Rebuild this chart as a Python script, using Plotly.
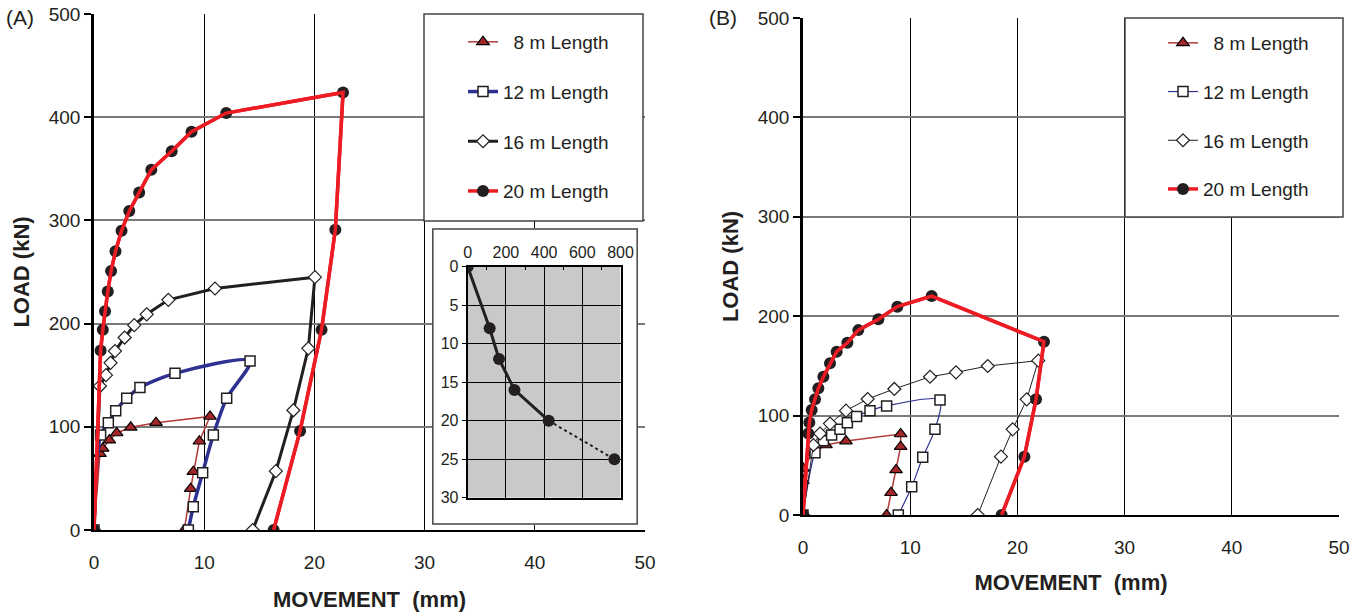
import plotly.graph_objects as go

W, H = 1364, 613

# ---------------- data: panel (A) ----------------
A8_X = [0, 0.54, 0.79, 1.39, 2.06, 3.33, 5.63, 10.53, 9.56, 9.01, 8.77, 8.2]
A8_Y = [0, 74, 79, 87, 94, 99.5, 104, 110, 86, 56.5, 40, 0]
A12_X = [0, 0.6, 1.3, 1.97, 2.97, 4.17, 7.35, 14.16, 12.04, 10.83, 9.86, 9.01, 8.56]
A12_Y = [0, 92, 104, 115.6, 127.6, 138, 151.8, 163.8, 127.6, 92, 55.5, 22.6, 0]
A16_X = [0, 0.54, 1.09, 1.5, 1.9, 2.78, 3.65, 4.78, 6.75, 10.98, 20.05, 19.45, 18.09, 16.5, 14.4]
A16_Y = [0, 139.5, 150, 162, 173.4, 186.5, 198.5, 209, 223, 234, 245, 176, 116, 57, 0]
A20_X = [0, 0.6, 0.8, 1.0, 1.25, 1.55, 1.95, 2.5, 3.2, 4.1, 5.2, 7.05, 8.85, 12.0, 22.6, 21.9, 20.65, 18.7, 16.3]
A20_Y = [0, 174, 194, 212, 231, 251, 270, 290, 309, 327, 349, 367, 386, 404, 424, 291, 194, 96, 0]

# ---------------- data: panel (B) ----------------
B8_X = [0, 0, 0, 0.97, 2.15, 4.01, 9.11, 9.11, 8.68, 8.21, 7.8]
B8_Y = [0, 34.5, 47, 62.7, 70.4, 74.4, 81.5, 68.7, 45.3, 22.4, 0]
B12_X = [0, 1.12, 1.9, 2.67, 3.45, 4.14, 5.0, 6.25, 7.8, 12.78, 12.31, 11.17, 10.14, 8.89]
B12_Y = [0, 62.7, 74.8, 80.5, 86.2, 92.9, 99, 105, 109.7, 115.7, 86.2, 58, 28.5, 0]
B16_X = [0, 0.97, 1.59, 2.52, 4.01, 6.03, 8.52, 11.85, 14.27, 17.23, 21.95, 20.87, 19.56, 18.47, 16.3]
B16_Y = [0, 70.4, 82, 92, 105, 116.7, 126.8, 139.1, 143.5, 149.9, 155.3, 116.4, 86.2, 58.7, 0]
B20_X = [0, 0.5, 0.59, 0.81, 1.12, 1.43, 1.9, 2.52, 3.14, 4.14, 5.16, 7.03, 8.8, 12.0, 22.48, 21.74, 20.65, 18.53]
B20_Y = [0, 82, 93, 105.6, 116.4, 127.4, 139, 152.6, 164.3, 173.3, 186, 197, 209.6, 220.3, 174.4, 116.4, 58.7, 0]

# ---------------- data: inset (peak load vs pile length) ----------------
INSET_LOAD = [0, 115, 164, 245, 424, 768]
INSET_LEN = [0, 8, 12, 16, 20, 25]

NAMES = ["\u20078 m Length", "12 m Length", "16 m Length", "20 m Length"]
X_TICKS = [0, 10, 20, 30, 40, 50]
Y_TICKS = [0, 100, 200, 300, 400, 500]

FONT = "Liberation Sans, Arial, sans-serif"
INK = "#231f20"
DRED = "#a3262a"
BLUE = "#2e3192"
RED = "#ed1c24"

fig = go.Figure()


def add_panel(xs, ys, xa, ya, widths, legend, smooth12):
    (x8, x12, x16, x20), (y8, y12, y16, y20) = xs, ys
    fig.add_trace(go.Scatter(x=x8, y=y8, name=NAMES[0], mode="lines+markers", xaxis=xa, yaxis=ya,
                             legend=legend, legendgroup=legend + "8",
                             line=dict(color="#b23a3a", width=widths[0]),
                             marker=dict(symbol="triangle-up", size=11, color=DRED,
                                         line=dict(color="black", width=1.2))))
    fig.add_trace(go.Scatter(x=x12, y=y12, name=NAMES[1], mode="lines+markers", xaxis=xa, yaxis=ya,
                             legend=legend, legendgroup=legend + "12",
                             line=dict(color=BLUE, width=widths[1],
                                       shape="spline" if smooth12 else "linear", smoothing=0.8),
                             marker=dict(symbol="square", size=10, color="white",
                                         line=dict(color=INK, width=1.5))))
    fig.add_trace(go.Scatter(x=x16, y=y16, name=NAMES[2], mode="lines+markers", xaxis=xa, yaxis=ya,
                             legend=legend, legendgroup=legend + "16",
                             line=dict(color=INK, width=widths[2]),
                             marker=dict(symbol="diamond", size=10, color="white",
                                         line=dict(color=INK, width=1.2))))
    fig.add_trace(go.Scatter(x=x20, y=y20, name=NAMES[3], mode="lines+markers", xaxis=xa, yaxis=ya,
                             legend=legend, legendgroup=legend + "20",
                             line=dict(color=RED, width=widths[3]),
                             marker=dict(symbol="circle", size=12, color=INK,
                                         line=dict(color=INK, width=0))))
    # red line drawn over the black markers, as in the original
    fig.add_trace(go.Scatter(x=x20, y=y20, mode="lines", xaxis=xa, yaxis=ya, showlegend=False,
                             hoverinfo="skip", line=dict(color=RED, width=widths[3])))


add_panel((A8_X, A12_X, A16_X, A20_X), (A8_Y, A12_Y, A16_Y, A20_Y), "x", "y",
          (1.5, 3.5, 3, 3.5), "legend", True)
add_panel((B8_X, B12_X, B16_X, B20_X), (B8_Y, B12_Y, B16_Y, B20_Y), "x2", "y2",
          (1.5, 1.2, 1.0, 3.5), "legend2", True)

# inset
fig.add_trace(go.Scatter(x=INSET_LOAD[:5], y=INSET_LEN[:5], mode="lines", xaxis="x4", yaxis="y4",
                         showlegend=False, line=dict(color=INK, width=3)))
fig.add_trace(go.Scatter(x=INSET_LOAD[4:], y=INSET_LEN[4:], mode="lines", xaxis="x4", yaxis="y4",
                         showlegend=False, line=dict(color=INK, width=2, dash="dot")))
fig.add_trace(go.Scatter(x=INSET_LOAD, y=INSET_LEN, mode="markers", xaxis="x4", yaxis="y4",
                         showlegend=False, marker=dict(color=INK, size=12)))


def px_x(a, b):
    return [a / W, b / W]


def px_y(top, bottom):
    return [(H - bottom) / H, (H - top) / H]


tickfont = dict(family=FONT, size=19, color=INK)
titlefont = dict(family=FONT, size=22, color=INK, weight="bold")


def xaxis(domain, anchor, standoff):
    return dict(domain=domain, anchor=anchor, range=[0, 50], tickvals=X_TICKS, showgrid=True,
                gridcolor="black", gridwidth=1, showline=True, linecolor="black", linewidth=1.5,
                zeroline=False, ticks="", ticklabelstandoff=14, tickfont=tickfont, automargin=False,
                title=dict(text="MOVEMENT\u00a0 (mm)", font=titlefont, standoff=standoff))


def yaxis(domain, anchor, standoff):
    return dict(domain=domain, anchor=anchor, range=[0, 500], tickvals=Y_TICKS, showgrid=True,
                gridcolor="#7a7a7a", gridwidth=1.5, showline=True, linecolor="black", linewidth=2.5,
                zeroline=False, ticks="outside", ticklen=7, tickcolor="black", tickwidth=1.5,
                tickfont=tickfont, automargin=False,
                title=dict(text="LOAD (kN)", font=titlefont, standoff=standoff))


legend_common = dict(bgcolor="rgba(0,0,0,0)", borderwidth=0, font=dict(family=FONT, size=19, color=INK),
                     xanchor="left", yanchor="top", itemsizing="trace")

fig.update_layout(
    width=W, height=H, margin=dict(l=0, r=0, t=0, b=0, autoexpand=False),
    paper_bgcolor="white", plot_bgcolor="white",
    font=dict(family=FONT, color=INK),
    xaxis=xaxis(px_x(94, 645), "y", 20),
    yaxis=yaxis(px_y(14, 530), "x", 14),
    xaxis2=xaxis(px_x(803, 1339), "y2", 18),
    yaxis2=yaxis(px_y(18, 515), "x2", 14),
    # frame around the inset (empty helper subplot)
    xaxis3=dict(domain=px_x(432, 638), anchor="y3", range=[0, 1], visible=False, automargin=False),
    yaxis3=dict(domain=px_y(228, 525), anchor="x3", range=[0, 1], visible=False, automargin=False),
    # inset
    xaxis4=dict(domain=px_x(467.7, 620.5), anchor="y4", range=[0, 800], dtick=200, side="top",
                showgrid=True, gridcolor="black", gridwidth=1, showline=True, mirror=True,
                linecolor="black", linewidth=2, zeroline=False, ticks="", automargin=False,
                minor=dict(dtick=100, ticks="inside", ticklen=3, tickcolor="black", showgrid=False),
                tickfont=dict(family=FONT, size=16, color=INK)),
    yaxis4=dict(domain=px_y(266.7, 497.7), anchor="x4", range=[30, 0], dtick=5, automargin=False,
                showgrid=True, gridcolor="black", gridwidth=1, showline=True, mirror=True,
                linecolor="black", linewidth=2, zeroline=False, ticks="outside", ticklen=4,
                tickcolor="black", tickfont=dict(family=FONT, size=16, color=INK)),
    legend=dict(x=463 / W, y=1 - 23 / H, tracegroupgap=22, **legend_common),
    legend2=dict(x=1163 / W, y=1 - 24 / H, tracegroupgap=21, **legend_common),
    showlegend=True,
)

shapes = [
    # inset frame (white, covers main grid)
    dict(type="rect", xref="x3", yref="y3", x0=0.004, x1=0.996, y0=0.003, y1=0.997, layer="below",
         fillcolor="white", line=dict(color="#444444", width=1.5)),
    # inset plot background
    dict(type="rect", xref="x4", yref="y4", x0=0, x1=800, y0=0, y1=30, layer="below",
         fillcolor="#c9c9cb", line=dict(width=0)),
    # legend boxes
    dict(type="rect", xref="paper", yref="paper", x0=424 / W, x1=643 / W, y0=(H - 221) / H,
         y1=(H - 14) / H, layer="above", fillcolor="white", line=dict(color="#444444", width=1.5)),
    dict(type="rect", xref="paper", yref="paper", x0=1125 / W, x1=1343 / W, y0=(H - 217) / H,
         y1=(H - 18) / H, layer="above", fillcolor="white", line=dict(color="#444444", width=1.5)),
]
fig.update_layout(shapes=shapes)

fig.add_annotation(text="(A)", x=4 / W, y=1 - 18 / H, xref="paper", yref="paper", showarrow=False,
                   xanchor="left", yanchor="middle", font=dict(family=FONT, size=21, color=INK))
fig.add_annotation(text="(B)", x=707 / W, y=1 - 18 / H, xref="paper", yref="paper", showarrow=False,
                   xanchor="left", yanchor="middle", font=dict(family=FONT, size=21, color=INK))

fig.write_html("out.html", config={"displayModeBar": False},
               post_script="document.body.style.margin='0';")
